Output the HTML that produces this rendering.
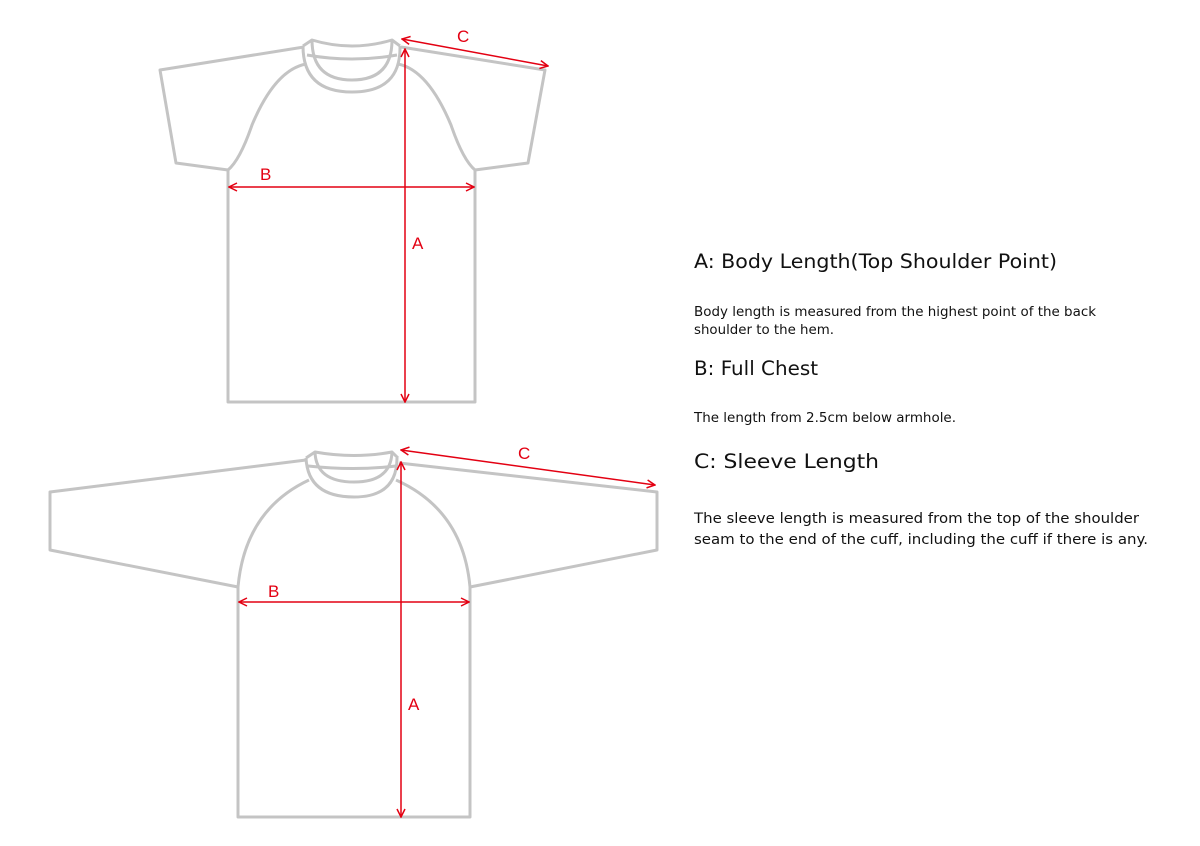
<!DOCTYPE html>
<html><head><meta charset="utf-8"><style>html,body{margin:0;padding:0;background:#fff}svg{display:block}</style></head>
<body>
<svg width="1200" height="846" viewBox="0 0 1200 846" xmlns="http://www.w3.org/2000/svg">
<defs>
<marker id="ah" markerWidth="10" markerHeight="10" refX="9" refY="5" orient="auto-start-reverse" markerUnits="userSpaceOnUse">
<path d="M1,1 L9,5 L1,9" fill="none" stroke="#e30012" stroke-width="1.5"/>
</marker>
</defs>
<g fill="none" stroke="#c4c4c4" stroke-width="3" stroke-linejoin="round">
<!-- top shirt -->
<path d="M304,47 L160,70 L176,163 L228,170 Q240,160 252,125 Q275,70 306,64"/>
<path d="M401,47 L545,70 L528,163 L475,170 Q463,160 451,125 Q428,70 398,64"/>
<path d="M228,170 L228,402 L475,402 L475,170"/>
<path d="M303,46 Q303,92 352,92 Q401,92 400,46"/>
<path d="M312,40 Q312,80 352,80 Q392,80 392,40"/>
<path d="M303,46 L312,40 Q352,52 392,40 L400,46"/>
<path d="M307,55 Q352,63 397,55"/>
<!-- bottom shirt -->
<path d="M306,460 L50,492 L50,550 L238,587"/>
<path d="M399,463 L657,492 L657,550 L470,587"/>
<path d="M238,587 Q245,510 309,480"/>
<path d="M470,587 Q463,510 396,480"/>
<path d="M238,587 L238,817 L470,817 L470,587"/>
<path d="M306,458 Q308,497 354,497 Q397,497 397,458"/>
<path d="M315,452 Q316,482 354,482 Q391,482 392,452"/>
<path d="M306,458 L315,452 Q354,459 392,452 L398,458"/>
<path d="M308,466 Q354,471 396,466"/>
</g>
<g stroke="#e30012" stroke-width="1.5" fill="none">
<line x1="405" y1="49" x2="405" y2="402" marker-start="url(#ah)" marker-end="url(#ah)"/>
<line x1="229" y1="187" x2="474" y2="187" marker-start="url(#ah)" marker-end="url(#ah)"/>
<line x1="402" y1="39" x2="548" y2="66" marker-start="url(#ah)" marker-end="url(#ah)"/>
<line x1="401" y1="462" x2="401" y2="817" marker-start="url(#ah)" marker-end="url(#ah)"/>
<line x1="239" y1="602" x2="469" y2="602" marker-start="url(#ah)" marker-end="url(#ah)"/>
<line x1="401" y1="450" x2="655" y2="485" marker-start="url(#ah)" marker-end="url(#ah)"/>
</g>
<g fill="#e30012" font-family="Liberation Sans, sans-serif" font-size="17">
<text x="260" y="180">B</text>
<text x="412" y="249">A</text>
<text x="457" y="42">C</text>
<text x="268" y="597">B</text>
<text x="408" y="710">A</text>
<text x="518" y="459">C</text>
</g>
<g fill="#111" font-family="DejaVu Sans, Liberation Sans, sans-serif">
<text x="694" y="268" font-size="19.5" textLength="363" lengthAdjust="spacingAndGlyphs">A: Body Length(Top Shoulder Point)</text>
<text x="694" y="316" font-size="13" textLength="402" lengthAdjust="spacingAndGlyphs">Body length is measured from the highest point of the back</text>
<text x="694" y="334" font-size="13" textLength="140" lengthAdjust="spacingAndGlyphs">shoulder to the hem.</text>
<text x="694" y="375" font-size="19.5" textLength="124" lengthAdjust="spacingAndGlyphs">B: Full Chest</text>
<text x="694" y="422" font-size="13" textLength="262" lengthAdjust="spacingAndGlyphs">The length from 2.5cm below armhole.</text>
<text x="694" y="468" font-size="19.5" textLength="185" lengthAdjust="spacingAndGlyphs">C: Sleeve Length</text>
<text x="694" y="523" font-size="14" textLength="445" lengthAdjust="spacingAndGlyphs">The sleeve length is measured from the top of the shoulder</text>
<text x="694" y="544" font-size="14" textLength="454" lengthAdjust="spacingAndGlyphs">seam to the end of the cuff, including the cuff if there is any.</text>
</g>
</svg>
</body></html>
